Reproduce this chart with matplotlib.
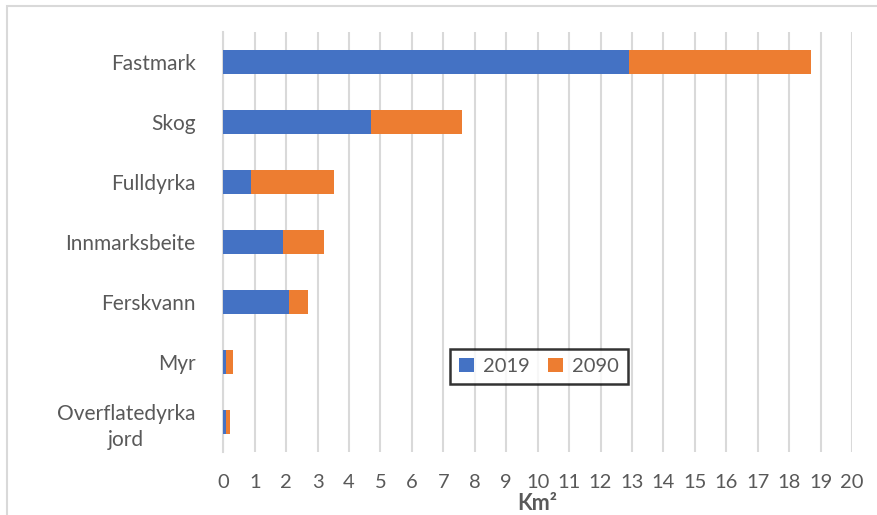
import matplotlib.pyplot as plt
import numpy as np
from matplotlib.patches import Rectangle

# arealer i km2, 2019 og tillegg fram mot 2090
kategorier = ["Fastmark", "Skog", "Fulldyrka", "Innmarksbeite", "Ferskvann", "Myr", "Overflatedyrka\njord"]
areal_2019 = [12.9, 4.69, 0.89, 1.91, 2.10, 0.09, 0.08]
areal_2090 = [5.8, 2.91, 2.62, 1.30, 0.60, 0.21, 0.12]
x_ticks = list(range(0, 21))

BLA = "#4472C4"
ORANSJE = "#ED7D31"
GRA_TEKST = "#595959"

plt.rcParams['font.family'] = ['Lato', 'DejaVu Sans']

fig = plt.figure(figsize=(8.77, 5.15), dpi=100)
ax = fig.add_axes([223.3 / 877, 1 - 452 / 515, (852 - 223.3) / 877, 420 / 515])

y = np.arange(len(kategorier))
ax.barh(y, areal_2019, height=0.4, color=BLA, label="2019", zorder=3)
ax.barh(y, areal_2090, left=areal_2019, height=0.4, color=ORANSJE, label="2090", zorder=3)

ax.set_ylim(len(kategorier) - 0.5, -0.5)
ax.set_xlim(0, 20)
ax.set_xticks(x_ticks)
ax.set_yticks(y)
ax.set_yticklabels(kategorier, multialignment='center', linespacing=1.35)
ax.tick_params(axis='both', length=0, colors=GRA_TEKST)
ax.tick_params(axis='y', pad=20, labelsize=15)
ax.tick_params(axis='x', pad=16, labelsize=14.5)

ax.grid(axis='x', color="#D9D9D9", linewidth=1.5, zorder=0)
for side in ["top", "right", "bottom"]:
    ax.spines[side].set_visible(False)
ax.spines["left"].set_color("#D9D9D9")
ax.spines["left"].set_linewidth(1.5)

ax.set_xlabel("Km²", fontsize=15.5, fontweight='bold', color=GRA_TEKST, labelpad=1)

leg = ax.legend(loc='center', bbox_to_anchor=(0.502, 0.204), ncol=2, fontsize=14.5,
                frameon=True, fancybox=False, handlelength=0.75, handleheight=0.75,
                columnspacing=0.9, handletextpad=0.45, borderpad=0.45)
leg.get_frame().set_edgecolor("black")
leg.get_frame().set_linewidth(1.8)
for t in leg.get_texts():
    t.set_color(GRA_TEKST)

# ramme rundt hele diagrammet
fig.patches.append(Rectangle((7 / 877, -0.1), 1.1, 1 - 6 / 515 + 0.1, transform=fig.transFigure,
                             fill=False, edgecolor="#D9D9D9", linewidth=1.5))

fig.savefig("out.png", dpi=100)
